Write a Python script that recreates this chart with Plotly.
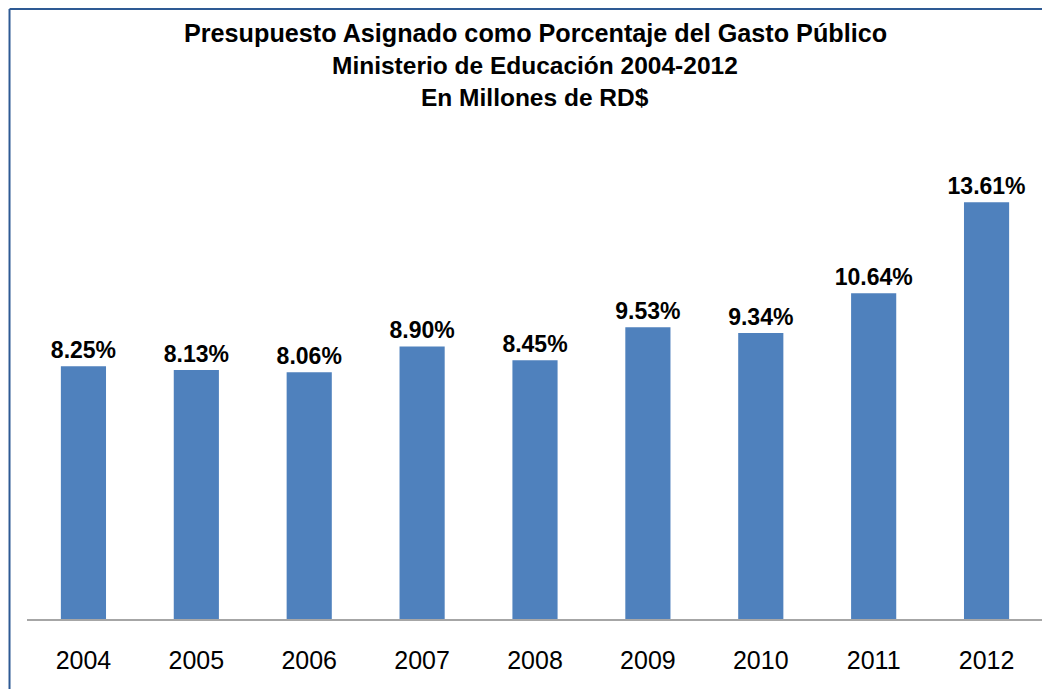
import plotly.graph_objects as go

# data
years = ["2004", "2005", "2006", "2007", "2008", "2009", "2010", "2011", "2012"]
pct_values = [8.25, 8.13, 8.06, 8.90, 8.45, 9.53, 9.34, 10.64, 13.61]
bar_labels = [f"{v:.2f}%" for v in pct_values]

title_lines = [
    "Presupuesto Asignado como Porcentaje del Gasto Público",
    "Ministerio de Educación 2004-2012",
    "En Millones de RD$",
]
title_sizes = [25.2, 24.5, 24.5]

BAR_BLUE = "#4F81BD"
FRAME_BLUE = "#2E5A94"
FONT = "Liberation Sans, Arial, sans-serif"

# the page body adds an 8px margin, so the figure is a little smaller than the window
W, H = 1042, 681
L, R, T, B = 18.5, 6.5, 121, 70
plot_w = W - L - R
plot_h = H - T - B


def px_to_paper_x(px):
    return (px - L) / plot_w


def px_to_paper_y(py):
    return (H - B - py) / plot_h


fig = go.Figure(
    go.Bar(
        x=years,
        y=pct_values,
        text=bar_labels,
        textposition="outside",
        constraintext="none",
        cliponaxis=False,
        textfont=dict(family=FONT, size=23, color="black", weight="bold"),
        marker=dict(color=BAR_BLUE, line=dict(width=0)),
        hoverinfo="x+y",
    )
)

# three centred title lines
for i, line in enumerate(title_lines):
    fig.add_annotation(
        text=line,
        xref="paper",
        yref="paper",
        x=0.5,
        y=px_to_paper_y(25 + i * 32.5),
        xanchor="center",
        yanchor="middle",
        showarrow=False,
        font=dict(family=FONT, size=title_sizes[i], color="black", weight="bold"),
    )

fig.update_layout(
    width=W,
    height=H,
    paper_bgcolor="white",
    plot_bgcolor="white",
    bargap=0.6,
    showlegend=False,
    margin=dict(l=L, r=R, t=T, b=B),
    # frame of the chart area; only the top and left edges fall inside the picture
    shapes=[
        dict(type="line", xref="paper", yref="paper",
             x0=px_to_paper_x(1), x1=px_to_paper_x(W + 20),
             y0=px_to_paper_y(1), y1=px_to_paper_y(1),
             line=dict(color=FRAME_BLUE, width=2)),
        dict(type="line", xref="paper", yref="paper",
             x0=px_to_paper_x(1), x1=px_to_paper_x(1),
             y0=px_to_paper_y(1), y1=px_to_paper_y(H + 20),
             line=dict(color=FRAME_BLUE, width=2)),
    ],
)

fig.update_xaxes(
    showline=True,
    linecolor="#A6A6A6",
    linewidth=1.5,
    ticks="",
    tickfont=dict(family=FONT, size=25, color="black"),
    ticklabelstandoff=18,
    showgrid=False,
)
fig.update_yaxes(
    range=[0, 16],
    visible=False,
    showgrid=False,
)

fig.write_html("out.html")
